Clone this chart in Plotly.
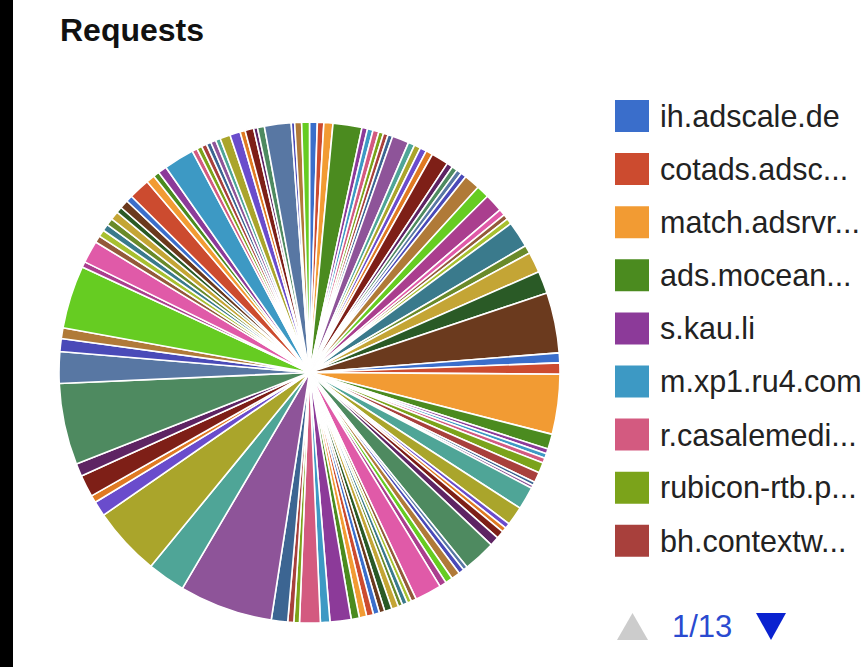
import plotly.graph_objects as go

# Legend page 1 (the only names visible in the picture)
visible_hosts = ['ih.adscale.de', 'cotads.adsc...', 'match.adsrvr...', 'ads.mocean...',
                 's.kau.li', 'm.xp1.ru4.com', 'r.casalemedi...', 'rubicon-rtb.p...',
                 'bh.contextw...']

# Requests per host (data order, clockwise from 12 o'clock)
requests = [
    18, 15, 21, 67, 13, 13, 14, 11, 11, 11,
    39, 15, 15, 15, 16, 40, 14, 13, 12, 13,
    37, 30, 42, 15, 12, 13, 61, 19, 48, 52,
    140, 23, 26, 139, 35, 11, 11, 12, 24, 24,
    8, 7, 53, 44, 12, 11, 18, 22, 75, 10,
    13, 20, 17, 16, 62, 12, 10, 12, 10, 16,
    17, 13, 14, 16, 17, 19, 49, 22, 48, 13,
    14, 38, 217, 88, 160, 35, 17, 51, 30, 189,
    73, 30, 25, 146, 13, 52, 16, 16, 16, 16,
    20, 14, 20, 15, 49, 20, 14, 20, 71, 12,
    12, 12, 11, 12, 11, 24, 24, 12, 20, 9,
    16, 62, 8, 16, 18,
]

hosts = visible_hosts + ['host %d' % (i + 1) for i in range(len(visible_hosts), len(requests))]

# Google Charts default palette, as it looks in the (washed out) screenshot
palette = ['#3a6ecb', '#cc4b2f', '#f29b33', '#4b8b1f', '#8c3a99', '#3d99c4', '#d35a80',
           '#7ba31a', '#a8403c', '#3c6592', '#8e5499', '#4fa597', '#aaa52b', '#6a4ccc',
           '#e07a22', '#7e1f17', '#5e2463', '#4e8a60', '#5877a3', '#4a4ab8', '#b07a38',
           '#66cc22', '#aa3e8e', '#e05aa8', '#935a3a', '#a8c030', '#3a7a8c', '#6a8a2a',
           '#c4a535', '#2a5a26', '#6b3a1e']
colors = [palette[i % len(palette)] for i in range(len(requests))]

W, H = 863, 667


def px(x):
    return x / W


def py(y):
    return 1 - y / H


fig = go.Figure()

fig.add_trace(go.Pie(
    labels=hosts, values=requests,
    sort=False, direction='clockwise', rotation=0,
    textinfo='none', showlegend=False,
    marker=dict(colors=colors, line=dict(color='white', width=1.6)),
    domain=dict(x=[px(58), px(561)], y=[py(623), py(122)]),
))

shapes = []
annotations = []

# black strip on the left edge of the screenshot
shapes.append(dict(type='rect', xref='paper', yref='paper',
                   x0=0, x1=px(13), y0=0, y1=1,
                   fillcolor='black', line=dict(width=0), layer='above'))

# title
annotations.append(dict(text='<b>Requests</b>', x=px(58), y=py(30), xref='paper', yref='paper',
                        xanchor='left', yanchor='middle', showarrow=False,
                        font=dict(family='Liberation Sans, Arial', size=32, color='#111111')))

# legend, first page
for i, name in enumerate(visible_hosts):
    yc = 116 + 53.1 * i
    shapes.append(dict(type='rect', xref='paper', yref='paper',
                       x0=px(615), x1=px(649), y0=py(yc + 16), y1=py(yc - 16),
                       fillcolor=colors[i], line=dict(width=0)))
    annotations.append(dict(text=name, x=px(658), y=py(yc), xref='paper', yref='paper',
                            xanchor='left', yanchor='middle', showarrow=False,
                            font=dict(family='Liberation Sans, Arial', size=30.5, color='#222222')))

# pager
shapes.append(dict(type='path', xref='paper', yref='paper',
                   path='M %f %f L %f %f L %f %f Z' % (px(617), py(640), px(648), py(640), px(632.5), py(613)),
                   fillcolor='#cccccc', line=dict(width=0)))
shapes.append(dict(type='path', xref='paper', yref='paper',
                   path='M %f %f L %f %f L %f %f Z' % (px(756), py(613), px(786), py(613), px(771), py(640)),
                   fillcolor='#0a22d0', line=dict(width=0)))
annotations.append(dict(text='1/13', x=px(670), y=py(626), xref='paper', yref='paper',
                        xanchor='left', yanchor='middle', showarrow=False,
                        font=dict(family='Liberation Sans, Arial', size=31, color='#2a4ad0')))

fig.update_layout(
    width=W, height=H,
    margin=dict(l=0, r=0, t=0, b=0),
    paper_bgcolor='white', plot_bgcolor='white',
    shapes=shapes, annotations=annotations,
)

# drop the browser's default 8px body margin so the figure fills the window
fig.write_html("out.html", config={'displayModeBar': False},
               post_script="document.body.style.margin='0';document.body.style.overflow='hidden';")
